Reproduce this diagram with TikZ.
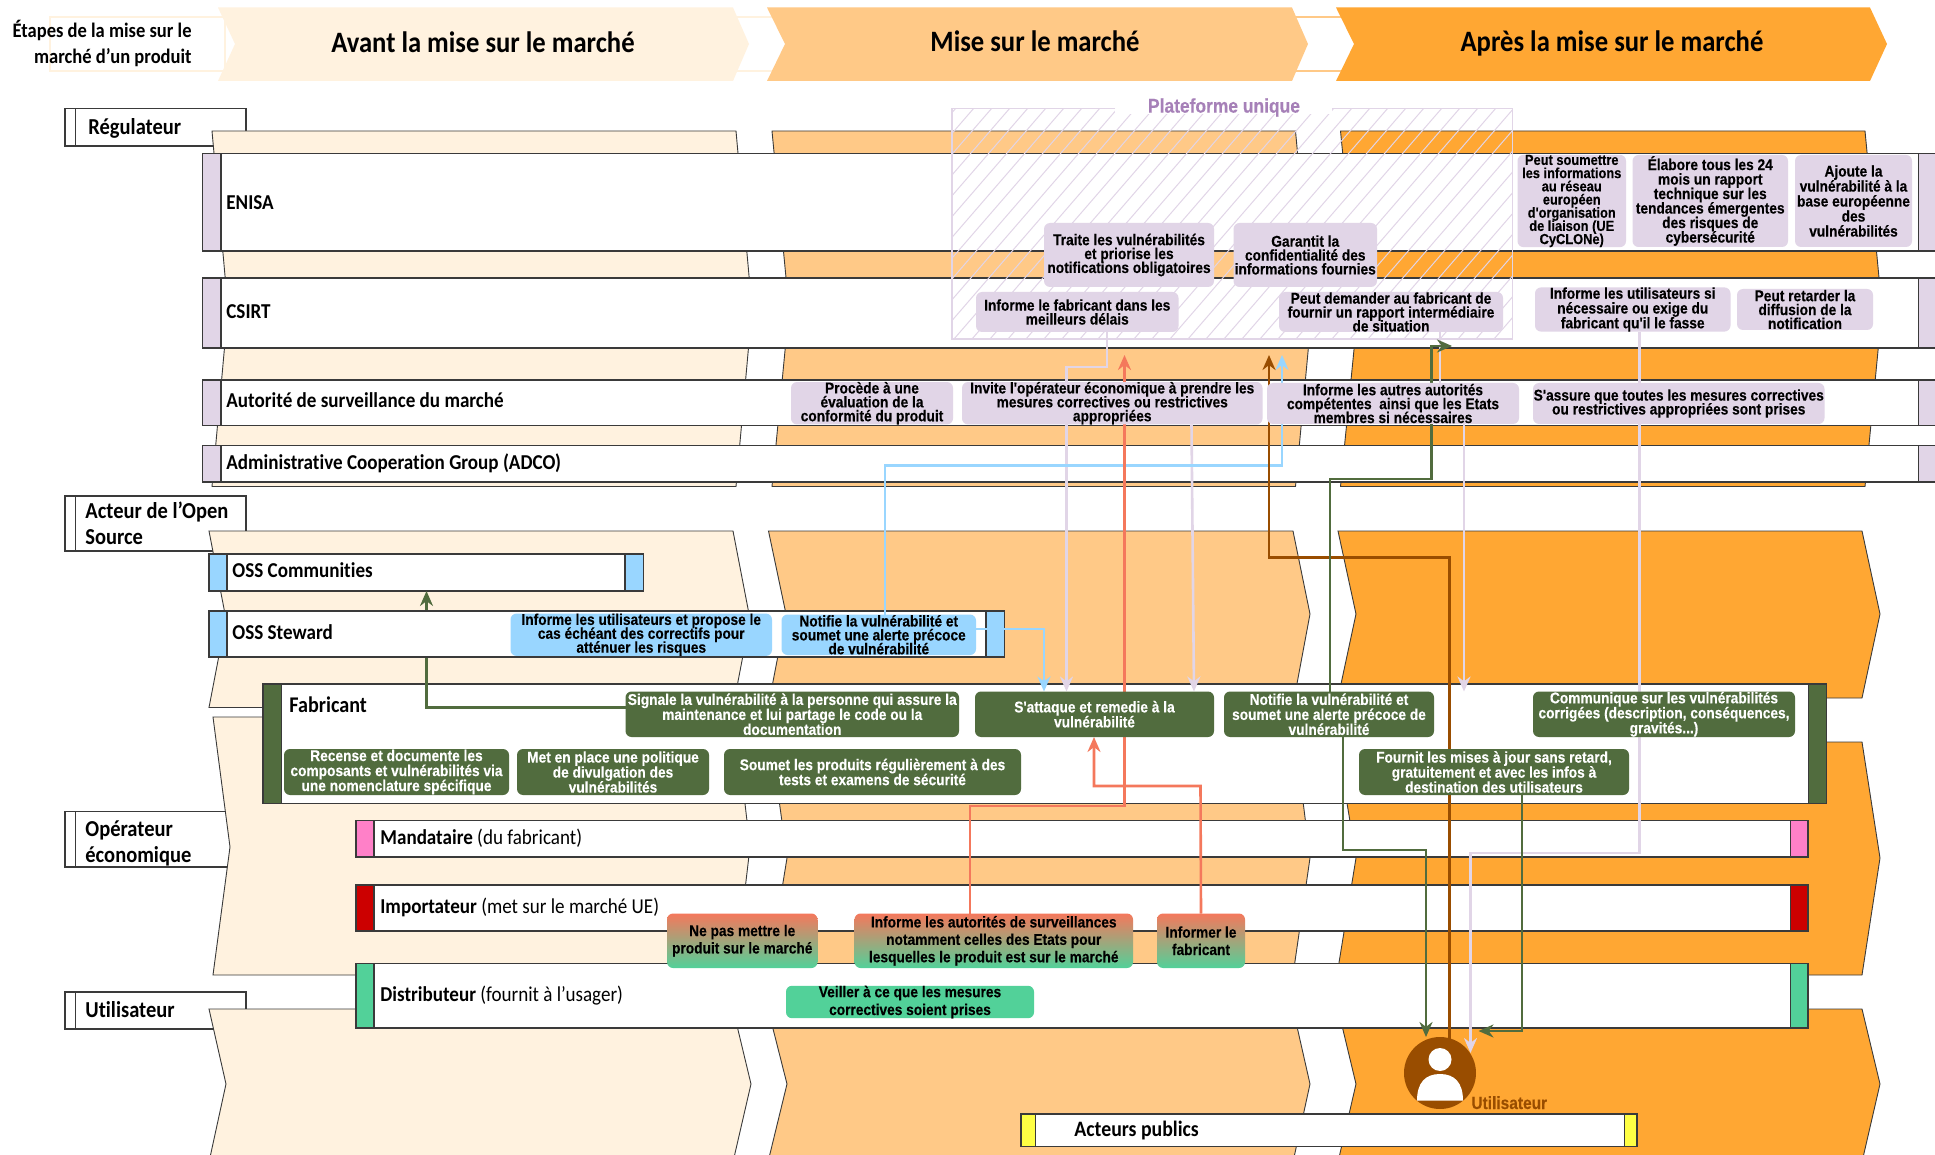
\documentclass[tikz,border=0pt]{standalone}
\usepackage{fontspec}
\setmainfont{Carlito}[FakeStretch=0.9,Ligatures=NoCommon]
\newfontfamily\boxfam{Liberation Sans}[FakeStretch=0.88,BoldFeatures={FakeBold=0.25}]
\usetikzlibrary{arrows.meta}
\pgfdeclarelayer{back}
\pgfdeclarelayer{mid}
\pgfsetlayers{back,mid,main}
\definecolor{cCream}{HTML}{FFF2DF}
\definecolor{cLight}{HTML}{FFC987}
\definecolor{cOrange}{HTML}{FFA733}
\definecolor{cLilac}{HTML}{E1D5E7}
\definecolor{cBlue}{HTML}{99D6FF}
\definecolor{cGreen}{HTML}{516C3E}
\definecolor{cSalmon}{HTML}{F4785C}
\definecolor{cMint}{HTML}{52D199}
\definecolor{cBrown}{HTML}{994D00}
\definecolor{cPurple}{HTML}{A680B8}
\definecolor{cPink}{HTML}{FF80C8}
\definecolor{cRed}{HTML}{CC0000}
\definecolor{cYellow}{HTML}{FFFF44}
\definecolor{cLine}{HTML}{3A3A3A}
\newcommand{\ap}{\symbol{39}}
\tikzset{
  headarrow/.style={fill=#1,draw=none},
  chev/.style={fill=#1,draw=cLine,line width=0.45pt},
  laneframe/.style={draw=cLine,fill=white,line width=0.7pt,inner sep=0pt,outer sep=0pt},
  strip/.style={draw=cLine,fill=#1,line width=0.7pt,inner sep=0pt,outer sep=0pt},
  tagbox/.style={draw=cLine,fill=white,line width=0.6pt,inner sep=0pt,outer sep=0pt},
  lanelabel/.style={anchor=base west,inner sep=0pt,font=\fontsize{10.6}{12}\selectfont\bfseries},
  tagfont/.style={inner sep=0pt,font=\fontsize{11.4}{13}\selectfont\bfseries},
  lanesub/.style={anchor=base west,inner sep=0pt,font=\fontsize{10.6}{12}\selectfont},
  headtext/.style={anchor=base,inner sep=0pt,font=\fontsize{14.8}{16}\selectfont\bfseries},
  boxfont/.style={font=\boxfam\fontsize{7.8}{#1}\selectfont\bfseries},
  actionbox/.style={rounded corners=3pt,inner sep=0pt,outer sep=0pt,align=center,boxfont=6.95},
  lilacbox/.style={actionbox,fill=cLilac},
  bluebox/.style={actionbox,fill=cBlue},
  greenbox/.style={actionbox,fill=cGreen,text=white,boxfont=7.5},
  mintbox/.style={actionbox,fill=cMint,boxfont=8.9},
  gradbox/.style={actionbox,top color=cSalmon,bottom color=cMint,boxfont=8.7},
  conn/.style={line width=1.3pt,-{Stealth[length=7.5pt,width=6.5pt]}},
  hatchline/.style={cLilac,line width=0.5pt},
}
% [style] name, x1, y1, x2, y2 in reference pixels, text
\newcommand{\bx}[7][]{%
  \pgfmathsetmacro{\bxw}{(#5-#3)/2}\pgfmathsetmacro{\bxh}{(#6-#4)/2}%
  \node[#1,minimum width=\bxw pt,minimum height=\bxh pt] (#2) at ({(#3+#5)/2},{(#4+#6)/2}) {#7};}
% colour, y top, y mid, y bottom, x left, notch, x right, tip
\newcommand{\chevron}[8]{%
  \draw[chev=#1] (#5,#2) -- (#7,#2) -- (#8,#3) -- (#7,#4) -- (#5,#4) -- (#6,#3) -- cycle;}
\begin{document}
\begin{tikzpicture}[x=0.5pt,y=-0.5pt]
\lineskiplimit=-100pt
\normallineskiplimit=-100pt
\useasboundingbox (0,0) rectangle (1935,1155);

% ---------- action boxes (main layer, on top)
\bx[lilacbox]{aConf}{791}{383}{953}{423.5}{Procède à une\\évaluation de la\\conformité du produit}
\bx[lilacbox]{aInvite}{962}{383}{1262.5}{423.5}{Invite l\ap opérateur économique à prendre les\\mesures correctives ou restrictives\\appropriées}
\bx[lilacbox]{aAutres}{1267}{383}{1519}{424}{Informe les autres autorités\\compétentes\ \ ainsi que les Etats\\membres si nécessaires}
\bx[lilacbox]{aAssure}{1533}{383}{1824.5}{424}{S\ap assure que toutes les mesures correctives\\ou restrictives appropriées sont prises}
\bx[lilacbox]{aInfoFab}{976}{292}{1178.5}{332}{Informe le fabricant dans les\\meilleurs délais}
\bx[lilacbox]{aRapport}{1279}{292}{1503}{332}{Peut demander au fabricant de\\fournir un rapport intermédiaire\\de situation}
\bx[lilacbox,boxfont=7.4]{aInfoUsers}{1535}{289}{1730.5}{330}{Informe les utilisateurs si\\nécessaire ou exige du\\fabricant qu\ap il le fasse}
\bx[lilacbox]{aRetard}{1737}{289}{1873}{330}{Peut retarder la\\diffusion de la\\notification}
\bx[lilacbox]{aTraite}{1044}{223}{1214}{287}{Traite les vulnérabilités\\et priorise les\\notifications obligatoires}
\bx[lilacbox]{aConfid}{1233.5}{223}{1377}{287}{Garantit la\\confidentialité des\\informations fournies}
\bx[lilacbox,font=\boxfam\fontsize{7.3}{6.6}\selectfont\bfseries]{aSoumettre}{1517.5}{155}{1626}{247}{Peut soumettre\\les informations\\au réseau\\européen\\d\ap organisation\\de liaison (UE\\CyCLONe)}
\bx[lilacbox,boxfont=7.25]{aElabore}{1632.5}{155}{1788}{247}{Élabore tous les 24\\mois un rapport\\technique sur les\\tendances émergentes\\des risques de\\cybersécurité}
\bx[lilacbox,boxfont=7.5]{aAjoute}{1795}{155}{1912}{247}{Ajoute la\\vulnérabilité à la\\base européenne\\des\\vulnérabilités}

\bx[bluebox]{bInforme}{510.5}{614.5}{772}{655}{Informe les utilisateurs et propose le\\cas échéant des correctifs pour\\atténuer les risques}
\bx[bluebox]{bNotifie}{781.5}{614.5}{976}{655}{Notifie la vulnérabilité et\\soumet une alerte précoce\\de vulnérabilité}

\bx[greenbox]{gSignale}{625.5}{691.5}{959}{737}{Signale la vulnérabilité à la personne qui assure la\\maintenance et lui partage le code ou la\\documentation}
\bx[greenbox]{gAttaque}{975}{691.5}{1214}{737}{S\ap attaque et remedie à la\\vulnérabilité}
\bx[greenbox]{gNotifie}{1224}{691.5}{1434}{737}{Notifie la vulnérabilité et\\soumet une alerte précoce de\\vulnérabilité}
\bx[greenbox]{gCommunique}{1533}{691.5}{1795}{737}{Communique sur les vulnérabilités\\corrigées (description, conséquences,\\gravités...)}
\bx[greenbox]{gRecense}{284}{749}{509}{795}{Recense et documente les\\composants et vulnérabilités via\\une nomenclature spécifique}
\bx[greenbox]{gPolitique}{517}{749}{709}{795}{Met en place une politique\\de divulgation des\\vulnérabilités}
\bx[greenbox]{gSoumet}{724}{749}{1021}{795}{Soumet les produits régulièrement à des\\tests et examens de sécurité}
\bx[greenbox]{gFournit}{1359}{749}{1629}{795}{Fournit les mises à jour sans retard,\\gratuitement et avec les infos à\\destination des utilisateurs}

\bx[gradbox]{rNePas}{667}{913.5}{817.5}{968}{Ne pas mettre le\\produit sur le marché}
\bx[gradbox]{rAutorites}{854.5}{913.5}{1133}{968}{Informe les autorités de surveillances\\notamment celles des Etats pour\\lesquelles le produit est sur le marché}
\bx[gradbox]{rInformer}{1157}{913.5}{1245}{968}{Informer le\\fabricant}
\bx[mintbox]{mVeiller}{786}{986}{1034}{1018}{Veiller à ce que les mesures\\correctives soient prises}

% user icon
\node[circle,fill=cBrown,minimum size=36pt,inner sep=0pt,outer sep=0pt] (user) at (1440,1073) {};
\node[circle,fill=white,minimum size=11.5pt,inner sep=0pt] (userHead) at (1440,1059.5) {};
\fill[white] (1417,1100.7) .. controls (1417,1083) and (1425,1074) .. (1440,1074) .. controls (1455,1074) and (1463,1083) .. (1463,1100.7) -- cycle;
\node[anchor=base west,inner sep=0pt,text=cBrown,font=\boxfam\fontsize{8.8}{9}\selectfont\bfseries] (userLabel) at (1471,1109) {Utilisateur};

% free ends
\coordinate (tipSalmon) at (1124.5,355);
\coordinate (tipBrown) at (1269,355);
\coordinate (tipBlue) at (1282,355);
\coordinate (tipGreenUp) at (1452,346);
\coordinate (tipUserL) at (1470.5,1053);
\coordinate (tipUserR) at (1478.5,1031);

% ---------- everything behind
\begin{pgfonlayer}{back}
\clip (0,0) rectangle (1935,1155);
\fill[white] (0,0) rectangle (1935,1155);

% header
\draw[cCream,line width=0.8pt] (50,17) rectangle (225,71);
\draw[cCream,line width=1.2pt] (725,17) -- (775,17) (725,71) -- (775,71);
\draw[cLight,line width=1.2pt] (1285,17) -- (1345,17) (1285,71) -- (1345,71);
\draw[headarrow=cCream] (218,7.5) -- (733,7.5) -- (749,44) -- (733,81) -- (218,81) -- (235,44) -- cycle;
\draw[headarrow=cLight] (767,7.5) -- (1292,7.5) -- (1308,44) -- (1292,81) -- (767,81) -- (785,44) -- cycle;
\draw[headarrow=cOrange] (1336,7.5) -- (1870,7.5) -- (1887,44) -- (1870,81) -- (1336,81) -- (1354,44) -- cycle;
\node[headtext] (hA) at (483,52.5) {Avant la mise sur le marché};
\node[headtext] (hM) at (1035,51.5) {Mise sur le marché};
\node[headtext] (hP) at (1612,51.5) {Après la mise sur le marché};
\node[inner sep=0pt,align=right,anchor=east,font=\fontsize{10.3}{12.8}\selectfont\bfseries] (hE) at (192,43.5) {Étapes de la mise sur le\\marché d\ap un produit};

% category tags
\bx[tagbox]{tReg}{65}{108.5}{246}{146}{}
\bx[tagbox]{tOss}{65}{496}{246}{551}{}
\bx[tagbox]{tOpe}{65}{811.5}{246}{867}{}
\bx[tagbox]{tUti}{65}{992}{246}{1029}{}
\draw[cLine,line width=0.6pt] (75.5,108.5) -- (75.5,146) (75.5,496) -- (75.5,551) (75.5,811.5) -- (75.5,867) (75.5,992) -- (75.5,1029);
\node[tagfont,anchor=base west] (lReg) at (88,135) {Régulateur};
\node[tagfont,anchor=west,align=left] (lOss) at (85,523.5) {Acteur de l\ap Open\\Source};
\node[tagfont,anchor=west,align=left] (lOpe) at (85,843) {Opérateur\\économique};
\node[tagfont,anchor=base west] (lUti) at (85,1017) {Utilisateur};

% chevrons
\chevron{cCream}{131}{309}{486.5}{212}{228}{736}{752}
\chevron{cLight}{131}{309}{486.5}{772}{789}{1295.5}{1312}
\chevron{cOrange}{131}{309}{486.5}{1340.5}{1358}{1865}{1882}
\chevron{cCream}{531}{619}{707.5}{209}{226}{733}{750}
\chevron{cLight}{531}{614}{705}{768.5}{786}{1293}{1310}
\chevron{cOrange}{531}{614}{698}{1338}{1356}{1862}{1880}
\chevron{cCream}{717}{847}{975}{213}{230}{735}{750}
\chevron{cLight}{720}{858}{975}{768}{787}{1293}{1310}
\chevron{cOrange}{742}{858}{975}{1337}{1356}{1862}{1880}
\chevron{cCream}{1009}{1084}{1162}{209}{226}{733}{751}
\chevron{cLight}{1009}{1084}{1162}{768}{787}{1293}{1310}
\chevron{cOrange}{1009}{1084}{1162}{1338}{1356}{1862}{1880}

% regulator lanes
\bx[laneframe]{laneEnisa}{202.5}{153.5}{1945}{251}{}
\bx[laneframe]{laneCsirt}{202.5}{278}{1945}{348}{}
\bx[laneframe]{laneAsm}{202.5}{380}{1945}{425.5}{}
\bx[laneframe]{laneAdco}{202.5}{445.5}{1945}{482}{}
\foreach \ya/\yb in {153.5/251,278/348,380/425.5,445.5/482}{
  \bx[strip=cLilac]{}{202.5}{\ya}{221}{\yb}{}
  \bx[strip=cLilac]{}{1918.5}{\ya}{1945}{\yb}{}
}
\node[lanelabel] (lEnisa) at (226,209.5) {ENISA};
\node[lanelabel] (lCsirt) at (226,319) {CSIRT};
\node[lanelabel] (lAsm) at (226,408) {Autorité de surveillance du marché};
\node[lanelabel] (lAdco) at (226,470) {Administrative Cooperation Group (ADCO)};

% plateforme unique
\begin{scope}
\clip (952,108.5) rectangle (1512.5,339);
\foreach \hx in {720,738,...,1512}{
  \draw[hatchline] (\hx,339) -- ++(200,-231);
}
\end{scope}
\fill[white] (1115,100) rectangle (1332,114);
\draw[cLilac,line width=0.8pt] (1115,108.5) -- (952,108.5) -- (952,339) -- (1512.5,339) -- (1512.5,108.5) -- (1332,108.5);
\node[inner sep=0pt,text=cPurple,font=\boxfam\fontsize{9.9}{10}\selectfont\bfseries] (lPlat) at (1224,107.5) {Plateforme unique};

% fabricant lane
\bx[laneframe]{laneFab}{263}{684}{1826.5}{803.5}{}
\bx[strip=cGreen]{}{263}{684}{281.5}{803.5}{}
\bx[strip=cGreen]{}{1808.5}{684}{1826.5}{803.5}{}
\node[lanelabel,font=\fontsize{11.2}{12}\selectfont\bfseries] (lFab) at (289,712) {Fabricant};

% open source lanes; the steward lane hides the arrow from the maintainer report
\bx[laneframe]{laneComm}{209}{554}{643.5}{591}{}
\bx[strip=cBlue]{}{209}{554}{227}{591}{}
\bx[strip=cBlue]{}{625}{554}{643.5}{591}{}
\node[lanelabel] (lComm) at (232,577) {OSS Communities};
\draw[conn,cGreen] (gSignale.west |- 426.5,707.5) -- (426.5,707.5) -- (426.5,0 |- laneComm.south);
\bx[laneframe]{laneSteward}{209}{611}{1004.5}{657}{}
\bx[strip=cBlue]{}{209}{611}{227}{657}{}
\bx[strip=cBlue]{}{986}{611}{1004.5}{657}{}
\node[lanelabel] (lSteward) at (232,639.5) {OSS Steward};

% economic operators
\bx[laneframe]{laneMand}{356}{820.5}{1808}{857}{}
\bx[strip=cPink]{}{356}{820.5}{374}{857}{}
\bx[strip=cPink]{}{1790.5}{820.5}{1808}{857}{}
\node[lanesub] (lMand) at (380,844) {\textbf{Mandataire} (du fabricant)};
\bx[laneframe]{laneImp}{356}{885}{1808}{931}{}
\bx[strip=cRed]{}{356}{885}{374}{931}{}
\bx[strip=cRed]{}{1790.5}{885}{1808}{931}{}
\node[lanesub] (lImp) at (380,913) {\textbf{Importateur} (met sur le marché UE)};
\bx[laneframe]{laneDist}{356}{963.5}{1808}{1028}{}
\bx[strip=cMint]{}{356}{963.5}{374}{1028}{}
\bx[strip=cMint]{}{1790.5}{963.5}{1808}{1028}{}
\node[lanesub] (lDist) at (380,1001) {\textbf{Distributeur} (fournit à l\ap usager)};

% public actors
\bx[laneframe]{lanePub}{1021}{1114}{1637}{1146.5}{}
\bx[strip=cYellow]{}{1021}{1114}{1035.5}{1146.5}{}
\bx[strip=cYellow]{}{1624.5}{1114}{1637}{1146.5}{}
\node[lanelabel,font=\fontsize{11}{12}\selectfont\bfseries] (lPub) at (1074,1136) {Acteurs publics};
\end{pgfonlayer}

% ---------- connectors between lanes and boxes
\begin{pgfonlayer}{mid}
% lilac
\draw[conn,cLilac] (1107,0 |- aInfoFab.south) -- (1107,367) -- (1066.5,367) -- (1066.5,0 |- gAttaque.north);
\draw[conn,cLilac] (1191.5,0 |- aInvite.south) -- (1194,0 |- gAttaque.north);
\draw[line width=1.3pt,cLilac] (1440,0 |- aRapport.south) -- (1440,0 |- aAutres.north);
\draw[conn,cLilac] (1464,0 |- aAutres.south) -- (1464,0 |- gNotifie.north);
\draw[conn,cLilac] (1639.5,0 |- aInfoUsers.south) -- (1639.5,853) -- (1470.5,853) -- (tipUserL);
% blue
\draw[conn,cBlue] (885,0 |- bNotifie.north) -- (885,465.5) -- (1282,465.5) -- (tipBlue);
\draw[conn,cBlue] (bNotifie.east |- 976,629) -- (1044,629) -- (1044,0 |- gAttaque.north);
% salmon
\draw[conn,cSalmon] (970,0 |- rAutorites.north) -- (970,806) -- (1124.5,806) -- (tipSalmon);
\draw[conn,cSalmon] (rInformer.north) -- (1200.5,786) -- (1094,786) -- (1094,0 |- gAttaque.south);
% brown
\draw[conn,cBrown] (1449.5,0 |- user.center) -- (1449.5,557.5) -- (1269,557.5) -- (tipBrown);
% dark green
\draw[conn,cGreen] (1330,0 |- gNotifie.north) -- (1330,479) -- (1431.5,479) -- (1431.5,346) -- (tipGreenUp);
\draw[conn,cGreen] (1343,0 |- gNotifie.south) -- (1343,850) -- (1426,850) -- (1426,0 |- user.north);
\draw[conn,cGreen] (1522,0 |- gFournit.south) -- (1522,1031) -- (tipUserR);
\end{pgfonlayer}
\end{tikzpicture}
\end{document}
